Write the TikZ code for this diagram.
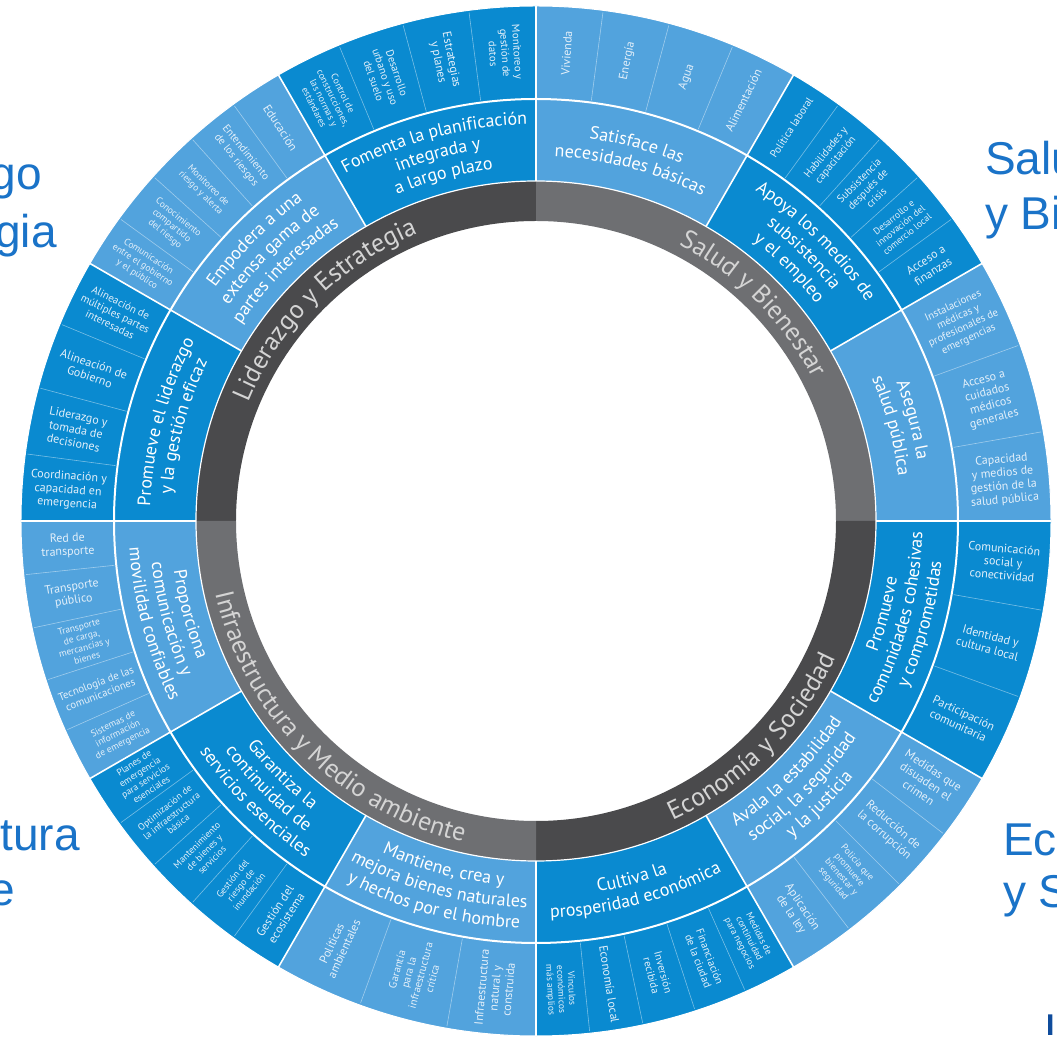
\documentclass[tikz,border=0pt]{standalone}
\usepackage{fontspec}
\setmainfont{PT Sans}
\newfontfamily\bigfont{Liberation Sans}
\usetikzlibrary{decorations.text}
\definecolor{dblue}{HTML}{0A8AD0}
\definecolor{lblue}{HTML}{52A3DD}
\definecolor{gdark}{HTML}{4A4A4C}
\definecolor{glight}{HTML}{6E6F72}
\definecolor{ringtxt}{HTML}{D4D4D4}
\definecolor{labblue}{HTML}{1A73C8}
\definecolor{subtxt}{HTML}{E4F0FA}
\definecolor{logoblue}{HTML}{0F4C9C}
\newcommand\subbig{\fontsize{12}{13.5}\selectfont}
\newcommand\subfont{\fontsize{10.8}{12.2}\selectfont}
\newcommand\subsmall{\fontsize{9.5}{10.6}\selectfont}
\newcommand\midfont{\fontsize{18}{21}\selectfont}
\newcommand\ringfont{\fontsize{26}{30}\selectfont}
\newcommand\labfont{\bigfont\fontsize{46}{50}\selectfont}
% annular sector: colour, a1, a2, r1, r2
\newcommand{\sector}[5]{\fill[#1] (#2:#4pt) arc[start angle=#2,end angle=#3,radius=#4pt] -- (#3:#5pt) arc[start angle=#3,end angle=#2,radius=#5pt] -- cycle;}
% curved text: colour, format, a1, a2, radius, text
\newcommand{\arctext}[6]{\path[decorate,decoration={text along path,text align=center,text color=#1,text={|#2|#6}}] (#3:#5pt) arc[start angle=#3,end angle=#4,radius=#5pt];}
% outer cells, right half / left half
\newcommand{\cellR}[4][\subfont]{\node[celltxt,font=#1,rotate=#3] (#2) at (#3:469pt) {#4};}
\newcommand{\cellL}[4][\subfont]{\node[celltxt,font=#1,rotate={#3-180}] (#2) at (#3:469pt) {#4};}
\begin{document}
\begin{tikzpicture}[
  celltxt/.style={text=subtxt,align=center,inner sep=0pt},
  subline/.style={draw=white,draw opacity=0.45,line width=0.6pt},
  objline/.style={draw=white,line width=1.6pt},
  biglab/.style={font=\labfont,text=labblue,inner sep=0pt}
]
\useasboundingbox (-536pt,-519pt) rectangle (521pt,521pt);
\fill[white] (-536pt,-519pt) rectangle (521pt,521pt);

% ---- dimension ring
\sector{gdark}{90}{180}{300}{340}
\sector{glight}{0}{90}{300}{340}
\sector{gdark}{-90}{0}{300}{340}
\sector{glight}{180}{270}{300}{340}

% ---- objective sectors (middle + outer ring)
\sector{dblue}{90}{120}{340}{515}
\sector{lblue}{60}{90}{340}{515}
\sector{dblue}{30}{60}{340}{515}
\sector{lblue}{0}{30}{340}{515}
\sector{dblue}{-30}{0}{340}{515}
\sector{lblue}{-60}{-30}{340}{515}
\sector{dblue}{-90}{-60}{340}{515}
\sector{lblue}{240}{270}{340}{515}
\sector{dblue}{210}{240}{340}{515}
\sector{lblue}{180}{210}{340}{515}
\sector{dblue}{150}{180}{340}{515}
\sector{lblue}{120}{150}{340}{515}

% ---- sub-cell separators
\foreach \a in {67.5,75,82.5, 36,42,48,54, 10,20, -10,-20, -37.5,-45,-52.5,
  -66,-72,-78,-84, 250,260, 216,222,228,234, 186,192,198,204,
  157.5,165,172.5, 126,132,138,144, 97.5,105,112.5}
  \draw[subline] (\a:424pt) -- (\a:513pt);

% ---- objective separators and ring circles
\foreach \a in {0,30,...,330} \draw[objline] (\a:340pt) -- (\a:515pt);
\draw[white,line width=2pt] (0,0) circle[radius=422pt];
\draw[white,line width=1.2pt] (0,0) circle[radius=340pt];
\draw[white,line width=1pt] (0,0) circle[radius=515pt];

% ---- dimension names
\arctext{ringtxt}{\ringfont}{180}{90}{311}{Liderazgo y Estrategia}
\arctext{ringtxt}{\ringfont}{90}{0}{311}{Salud y Bienestar}
\arctext{ringtxt}{\ringfont}{-90}{0}{329}{Economía y Sociedad}
\arctext{ringtxt}{\ringfont}{180}{270}{329}{Infraestructura y Medio ambiente}

% ---- objectives (top half: clockwise, bottom half: counter-clockwise)
% Fomenta (105)
\arctext{white}{\midfont}{130}{80}{396.5}{Fomenta la planificación}
\arctext{white}{\midfont}{130}{80}{375.5}{integrada y}
\arctext{white}{\midfont}{130}{80}{354.5}{a largo plazo}
% Satisface (75)
\arctext{white}{\midfont}{100}{50}{386}{Satisface las}
\arctext{white}{\midfont}{100}{50}{365}{necesidades básicas}
% Apoya (45)
\arctext{white}{\midfont}{70}{20}{396.5}{Apoya los medios de}
\arctext{white}{\midfont}{70}{20}{375.5}{subsistencia}
\arctext{white}{\midfont}{70}{20}{354.5}{y el empleo}
% Asegura (15)
\arctext{white}{\midfont}{40}{-10}{386}{Asegura la}
\arctext{white}{\midfont}{40}{-10}{365}{salud pública}
% Promueve comunidades (-15)
\arctext{white}{\midfont}{-40}{10}{365.5}{Promueve}
\arctext{white}{\midfont}{-40}{10}{386.5}{comunidades cohesivas}
\arctext{white}{\midfont}{-40}{10}{407.5}{y comprometidas}
% Avala (-45)
\arctext{white}{\midfont}{-70}{-20}{365.5}{Avala la estabilidad}
\arctext{white}{\midfont}{-70}{-20}{386.5}{social, la seguridad}
\arctext{white}{\midfont}{-70}{-20}{407.5}{y la justicia}
% Cultiva (-75)
\arctext{white}{\midfont}{-100}{-50}{376}{Cultiva la}
\arctext{white}{\midfont}{-100}{-50}{397}{prosperidad económica}
% Mantiene (255)
\arctext{white}{\midfont}{230}{280}{365.5}{Mantiene, crea y}
\arctext{white}{\midfont}{230}{280}{386.5}{mejora bienes naturales}
\arctext{white}{\midfont}{230}{280}{407.5}{y hechos por el hombre}
% Garantiza (225)
\arctext{white}{\midfont}{200}{250}{365.5}{Garantiza la}
\arctext{white}{\midfont}{200}{250}{386.5}{continuidad de}
\arctext{white}{\midfont}{200}{250}{407.5}{servicios esenciales}
% Proporciona (195)
\arctext{white}{\midfont}{170}{220}{365.5}{Proporciona}
\arctext{white}{\midfont}{170}{220}{386.5}{comunicación y}
\arctext{white}{\midfont}{170}{220}{407.5}{movilidad confiables}
% Promueve liderazgo (165)
\arctext{white}{\midfont}{190}{140}{386}{Promueve el liderazgo}
\arctext{white}{\midfont}{190}{140}{365}{y la gestión eficaz}
% Empodera (135)
\arctext{white}{\midfont}{160}{110}{396.5}{Empodera a una}
\arctext{white}{\midfont}{160}{110}{375.5}{extensa gama de}
\arctext{white}{\midfont}{160}{110}{354.5}{partes interesadas}

% ---- indicators: Salud y Bienestar
\cellR[\subbig]{c01}{86.25}{Vivienda}
\cellR[\subbig]{c02}{78.75}{Energía}
\cellR[\subbig]{c03}{71.25}{Agua}
\cellR[\subbig]{c04}{63.75}{Alimentación}
\cellR{c05}{57}{Política laboral}
\cellR{c06}{51}{Habilidades y\\capacitación}
\cellR{c07}{45}{Subsistencia\\después de\\crisis}
\cellR[\subsmall]{c08}{39}{Desarrollo e\\innovación del\\comercio local}
\cellR[\subbig]{c09}{33}{Acceso a\\finanzas}
\cellR{c10}{25}{Instalaciones\\médicas y\\profesionales de\\emergencias}
\cellR[\subbig]{c11}{15}{Acceso a\\cuidados\\médicos\\generales}
\cellR[\subbig]{c12}{5}{Capacidad\\y medios de\\gestión de la\\salud pública}
% Economía y Sociedad
\cellR[\subbig]{c13}{-5}{Comunicación\\social y\\conectividad}
\cellR[\subbig]{c14}{-15}{Identidad y\\cultura local}
\cellR[\subbig]{c15}{-25}{Participación\\comunitaria}
\cellR[\subbig]{c16}{-33.75}{Medidas que\\disuaden el\\crimen}
\cellR[\subbig]{c17}{-41.25}{Reducción de\\la corrupción}
\cellR[\subsmall]{c18}{-48.75}{Policía que\\promueve\\bienestar y\\seguridad}
\cellR[\subbig]{c19}{-56.25}{Aplicación\\de la ley}
\cellR[\subsmall]{c20}{-63}{Medidas de\\continuidad\\para negocios}
\cellR{c21}{-69}{Financiación\\de la ciudad}
\cellR{c22}{-75}{Inversión\\recibida}
\cellR[\subbig]{c23}{-81}{Economía local}
\cellR[\subsmall]{c24}{-87}{Vínculos\\económicos\\más amplios}
% Infraestructura y Medio ambiente
\cellL[\subbig]{c25}{265}{Infraestructura\\natural y\\construida}
\cellL{c26}{255}{Garantía\\para la\\infraestructura\\crítica}
\cellL[\subbig]{c27}{245}{Políticas\\ambientales}
\cellL[\subbig]{c28}{237}{Gestión del\\ecosistema}
\cellL[\subsmall]{c29}{231}{Gestión del\\riesgo de\\inundación}
\cellL[\subsmall]{c30}{225}{Mantenimiento\\de bienes y\\servicios}
\cellL[\subsmall]{c31}{219}{Optimización de\\la infraestructura\\básica}
\cellL[\subsmall]{c32}{213}{Planes de\\emergencia\\para servicios\\esenciales}
\cellL[\subsmall]{c33}{207}{Sistemas de\\información\\de emergencia}
\cellL{c34}{201}{Tecnología de las\\comunicaciones}
\cellL[\subsmall]{c35}{195}{Transporte\\de carga,\\mercancías y\\bienes}
\cellL[\subbig]{c36}{189}{Transporte\\público}
\cellL[\subbig]{c37}{183}{Red de\\transporte}
% Liderazgo y Estrategia
\cellL[\subbig]{c38}{176.25}{Coordinación y\\capacidad en\\emergencia}
\cellL[\subbig]{c39}{168.75}{Liderazgo y\\tomada de\\decisiones}
\cellL[\subbig]{c40}{161.25}{Alineación de\\Gobierno}
\cellL{c41}{153.75}{Alineación de\\múltiples partes\\interesadas}
\cellL[\subsmall]{c42}{147}{Comunicación\\entre el gobierno\\y el público}
\cellL[\subsmall]{c43}{141}{Conocimiento\\compartido\\del riesgo}
\cellL[\subsmall]{c44}{135}{Monitoreo de\\riesgo y alerta}
\cellL{c45}{129}{Entendimiento\\de los riesgos}
\cellL[\subbig]{c46}{123}{Educación}
\cellL[\subsmall]{c47}{116.25}{Control de\\construcciones,\\las normas y\\estándares}
\cellL{c48}{108.75}{Desarrollo\\urbano y uso\\del suelo}
\cellL[\subbig]{c49}{101.25}{Estrategias\\y planes}
\cellL{c50}{93.75}{Monitoreo y\\gestión de\\datos}

% ---- outside labels (cut by the page edge)
\node[biglab,anchor=base west] (sal1) at (449pt,346pt) {Salud};
\node[biglab,anchor=base west] (sal2) at (449pt,291pt) {y Bienestar};
\node[biglab,anchor=base east] (lid1) at (-494pt,331pt) {Liderazgo};
\node[biglab,anchor=base east] (lid2) at (-479pt,273pt) {y Estrategia};
\node[biglab,anchor=base east] (inf1) at (-456pt,-329pt) {Infraestructura};
\node[biglab,anchor=base east] (inf2) at (-521pt,-384pt) {y Medio ambiente};
\node[biglab,anchor=base west] (eco1) at (467pt,-334pt) {Economía};
\node[biglab,anchor=base west] (eco2) at (467pt,-386pt) {y Sociedad};
\node[font=\bigfont\bfseries\fontsize{30}{30}\selectfont,text=logoblue,inner sep=0pt,anchor=base west] (logo) at (510pt,-514pt) {I};
\end{tikzpicture}
\end{document}
